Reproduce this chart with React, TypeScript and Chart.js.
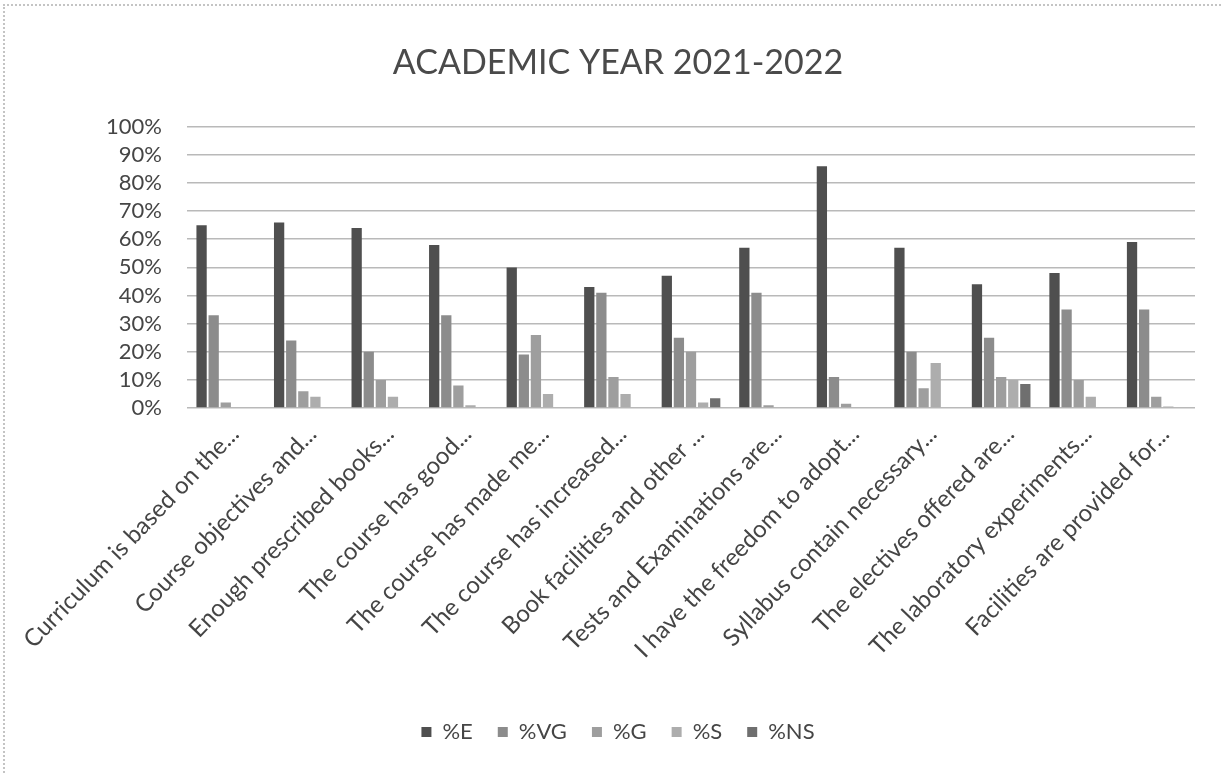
import React, { useEffect, useRef } from "react";
import { Chart, registerables } from "chart.js";

Chart.register(...registerables);

const categories = [
  "Curriculum is based on the...",
  "Course objectives and...",
  "Enough prescribed books...",
  "The course has good...",
  "The course has made me...",
  "The course has increased...",
  "Book facilities and other ...",
  "Tests and Examinations are...",
  "I have the freedom to adopt...",
  "Syllabus contain necessary...",
  "The electives offered are...",
  "The laboratory experiments...",
  "Facilities are provided for...",
];

const seriesE = [65, 66, 64, 58, 50, 43, 47, 57, 86, 57, 44, 48, 59];
const seriesVG = [33, 24, 20, 33, 19, 41, 25, 41, 11, 20, 25, 35, 35];
const seriesG = [2, 6, 10, 8, 26, 11, 20, 1, 1.5, 7, 11, 10, 4];
const seriesS = [0, 4, 4, 1, 5, 5, 2, 0, 0, 16, 10, 4, 0.5];
const seriesNS = [0, 0, 0, 0, 0, 0, 3.5, 0, 0, 0, 8.5, 0, 0];

const seriesNames = ["%E", "%VG", "%G", "%S", "%NS"];
const yTicks = [0, 10, 20, 30, 40, 50, 60, 70, 80, 90, 100];

const FONT = "Lato, 'Open Sans', sans-serif";
const TEXT = "#454545";
const GRID = "#b9b9b9";
const colors = ["#4f4f4f", "#8c8c8c", "#9e9e9e", "#adadad", "#6f6f6f"];

export default function App() {
  const ref = useRef<HTMLCanvasElement | null>(null);

  useEffect(() => {
    if (!ref.current) return;
    const values = [seriesE, seriesVG, seriesG, seriesS, seriesNS];
    const chart = new Chart(ref.current, {
      type: "bar",
      data: {
        labels: categories,
        datasets: seriesNames.map((name, i) => ({
          label: name,
          data: values[i],
          backgroundColor: colors[i],
          borderWidth: 0,
          categoryPercentage: 0.78,
          barPercentage: 0.85,
        })),
      },
      options: {
        animation: false,
        responsive: false,
        maintainAspectRatio: false,
        layout: { padding: { left: 41, right: 26, top: 0, bottom: 20 } },
        plugins: {
          title: {
            display: true,
            text: "ACADEMIC YEAR 2021-2022",
            color: "#4a4a4a",
            font: { family: FONT, size: 34, weight: "normal" },
            padding: { top: 43, bottom: 43 },
          },
          legend: {
            position: "bottom",
            labels: {
              color: TEXT,
              font: { family: FONT, size: 22 },
              boxWidth: 10,
              boxHeight: 10,
              padding: 25,
            },
          },
          tooltip: { enabled: false },
        },
        scales: {
          x: {
            grid: { display: false, drawTicks: false },
            border: { display: false },
            ticks: {
              color: TEXT,
              font: { family: FONT, size: 24 },
              minRotation: 46,
              maxRotation: 46,
              autoSkip: false,
              padding: 12,
              labelOffset: 9,
            },
            afterFit: (scale: any) => {
              scale.height = 288;
            },
          },
          y: {
            min: 0,
            max: 100,
            afterBuildTicks: (scale: any) => {
              scale.ticks = yTicks.map((v) => ({ value: v }));
            },
            grid: { color: GRID, lineWidth: 1.6, drawTicks: false },
            border: { display: false },
            ticks: {
              color: TEXT,
              font: { family: FONT, size: 22 },
              padding: 25,
              autoSkip: false,
              callback: (v: any) => v + "%",
            },
            afterFit: (scale: any) => {
              scale.width = 146;
            },
          },
        },
      },
    });
    return () => chart.destroy();
  }, []);

  return (
    <div
      style={{
        position: "fixed",
        left: 0,
        top: 0,
        width: 1221,
        height: 773,
        background: "#ffffff",
      }}
    >
      <canvas ref={ref} width={1221} height={773} style={{ display: "block" }} />
      <div
        style={{
          position: "absolute",
          left: 3,
          top: 4,
          right: 0,
          bottom: 0,
          borderTop: "2px dotted #c4c4c4",
          borderLeft: "2px dotted #c4c4c4",
          pointerEvents: "none",
        }}
      />
    </div>
  );
}
